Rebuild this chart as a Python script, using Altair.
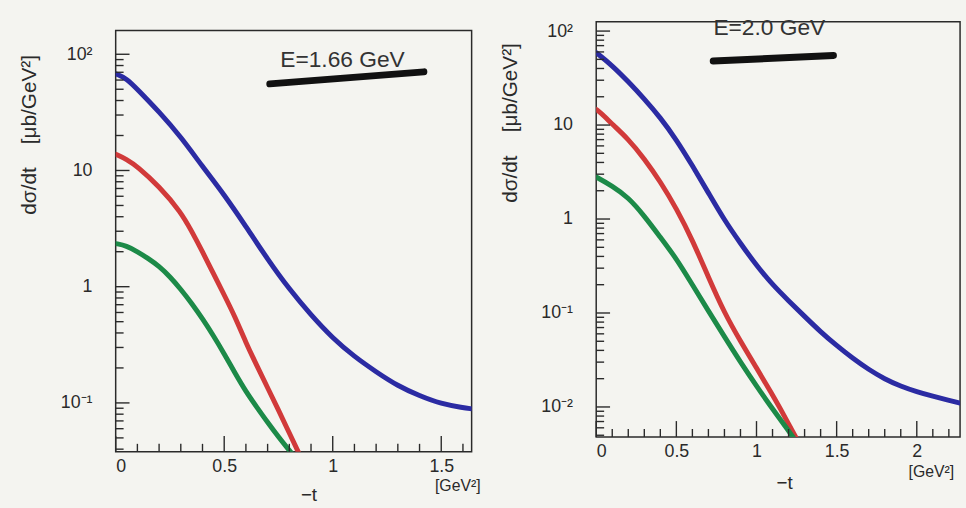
import altair as alt
import pandas as pd

FONT = "Liberation Sans"
INK = "#2a2a2a"
BLUE = "#2b2ba3"
RED = "#d13a3a"
GREEN = "#1c8a48"

# ---- E = 1.66 GeV : -t [GeV^2] vs dsigma/dt [mub/GeV^2] ----
t166_blue = [0, 0.05, 0.1, 0.2, 0.3, 0.4, 0.5, 0.6, 0.7, 0.8, 0.9, 1.0, 1.1, 1.2, 1.3, 1.4, 1.5, 1.6, 1.64]
ds166_blue = [68, 62, 50, 32, 19.5, 10.8, 6.2, 3.3, 1.72, 0.95, 0.57, 0.36, 0.25, 0.185, 0.14, 0.115, 0.098, 0.091, 0.089]
t166_red = [0, 0.05, 0.1, 0.2, 0.3, 0.35, 0.4, 0.45, 0.5, 0.55, 0.6, 0.65, 0.7, 0.75, 0.8, 0.85]
ds166_red = [13.8, 12.5, 10.8, 7.3, 4.4, 3.0, 2.0, 1.3, 0.85, 0.55, 0.33, 0.21, 0.135, 0.087, 0.055, 0.035]
t166_green = [0, 0.05, 0.1, 0.15, 0.2, 0.25, 0.3, 0.35, 0.4, 0.45, 0.5, 0.55, 0.6, 0.65, 0.7, 0.75, 0.8, 0.85]
ds166_green = [2.35, 2.25, 2.0, 1.75, 1.5, 1.22, 0.95, 0.72, 0.53, 0.38, 0.265, 0.18, 0.125, 0.092, 0.068, 0.051, 0.039, 0.030]

# ---- E = 2.0 GeV ----
t200_blue = [0, 0.1, 0.2, 0.3, 0.4, 0.5, 0.6, 0.7, 0.8, 0.9, 1.0, 1.1, 1.2, 1.3, 1.4, 1.5, 1.6, 1.7, 1.8, 1.9, 2.0, 2.1, 2.2, 2.27]
ds200_blue = [59, 43, 29, 19, 12, 7.0, 3.7, 1.9, 0.97, 0.55, 0.32, 0.2, 0.135, 0.092, 0.063, 0.045, 0.033, 0.025, 0.0198, 0.0166, 0.0145, 0.013, 0.0118, 0.011]
t200_red = [0, 0.05, 0.1, 0.2, 0.3, 0.4, 0.5, 0.6, 0.7, 0.8, 0.9, 1.0, 1.1, 1.15, 1.2, 1.25]
ds200_red = [14.7, 12.5, 10.2, 7.1, 4.4, 2.5, 1.3, 0.6, 0.24, 0.1, 0.05, 0.026, 0.0135, 0.0095, 0.0066, 0.0046]
t200_green = [0, 0.1, 0.2, 0.3, 0.4, 0.5, 0.6, 0.7, 0.8, 0.9, 1.0, 1.1, 1.2, 1.25]
ds200_green = [2.8, 2.25, 1.7, 1.08, 0.64, 0.38, 0.2, 0.105, 0.056, 0.03, 0.0167, 0.0095, 0.0056, 0.0042]

# axis tick positions
x_labels_166 = [0, 0.5, 1, 1.5]
x_labels_200 = [0, 0.5, 1, 1.5, 2]
y_decades_166 = [0.1, 1, 10, 100]
y_decades_200 = [0.01, 0.1, 1, 10, 100]


def minor_log_ticks(lo, hi):
    vals = []
    d = 1e-3
    while d < 1e3:
        for m in range(2, 10):
            v = round(m * d, 6)
            if lo <= v <= hi:
                vals.append(v)
        d *= 10
    return vals


def minor_lin_ticks(hi, step=0.1):
    out = []
    i = 0
    while round(i * step, 3) <= hi:
        v = round(i * step, 3)
        if i % 5 != 0:
            out.append(v)
        i += 1
    return out


def curves_frame(series):
    rows = []
    for name, ts, ds in series:
        for t, d in zip(ts, ds):
            rows.append({"t": t, "ds": d, "curve": name})
    return pd.DataFrame(rows)


Y_LABEL_EXPR = ("datum.value >= 100 ? '10²' : datum.value >= 10 ? '10' : "
                "datum.value >= 1 ? '1' : datum.value >= 0.1 ? '10⁻¹' : '10⁻²'")
GAP = "\u00a0" * 4
Y_TITLE = "dσ/dt" + GAP + "[μb/GeV²]"


def panel(series, xmax, ydom, w, h, xlabels, ydec, energy_text, e_pos, bar, unit_pos, tx, ty, title_y):
    xs = alt.Scale(domain=[0, xmax], nice=False, zero=False)
    ys = alt.Scale(type="log", domain=ydom, nice=False)
    xaxis = alt.Axis(
        values=xlabels, format="~g", ticks=False, domain=False, grid=False,
        labelFont=FONT, labelFontSize=18, labelColor=INK, labelPadding=6,
        title="−t", titleFont=FONT, titleFontSize=19, titleFontWeight="normal",
        titleColor=INK, titleX=tx, titleY=ty, titleAlign="center", titleBaseline="middle")
    yaxis = alt.Axis(
        values=ydec, labelExpr=Y_LABEL_EXPR, ticks=False, domain=False, grid=False,
        labelFont=FONT, labelFontSize=18, labelColor=INK, labelPadding=24,
        title=Y_TITLE, titleFont=FONT, titleFontSize=21,
        titleFontWeight="normal", titleColor=INK, titleAngle=270,
        titleX=-87, titleY=title_y, titleAlign="center", titleBaseline="middle")

    def X(field):
        return alt.X(field, scale=xs, axis=xaxis)

    def Y(field):
        return alt.Y(field, scale=ys, axis=yaxis)

    lines = alt.Chart(curves_frame(series)).mark_line(
        strokeWidth=5, clip=True, interpolate="basis", strokeCap="round"
    ).encode(
        x=X("t:Q"),
        y=Y("ds:Q"),
        color=alt.Color("curve:N", scale=alt.Scale(domain=["blue", "red", "green"],
                                                  range=[BLUE, RED, GREEN]), legend=None),
        detail="curve:N",
    )

    def yrule(vals, length):
        return alt.Chart(pd.DataFrame({"ds": vals})).mark_rule(color=INK, strokeWidth=1.4).encode(
            y=Y("ds:Q"), x=alt.value(0), x2=alt.value(length))

    def xrule(vals, length):
        return alt.Chart(pd.DataFrame({"t": vals})).mark_rule(color=INK, strokeWidth=1.4).encode(
            x=X("t:Q"), y=alt.value(h), y2=alt.value(h - length))

    ytick_major = yrule(ydec, 14)
    ytick_minor = yrule(minor_log_ticks(ydom[0], ydom[1]), 8)
    xtick_major = xrule(xlabels, 16)
    xtick_minor = xrule(minor_lin_ticks(xmax), 8)

    etext = alt.Chart(pd.DataFrame({"t": [e_pos[0]], "ds": [e_pos[1]], "s": [energy_text]})).mark_text(
        font=FONT, fontSize=23, color="#333", baseline="middle", align="center"
    ).encode(x=X("t:Q"), y=Y("ds:Q"), text="s:N")

    ebar = alt.Chart(pd.DataFrame({"t": [bar[0]], "t2": [bar[1]], "ds": [bar[2]], "ds2": [bar[3]]})).mark_rule(
        color="#111", strokeWidth=7, strokeCap="round"
    ).encode(x=X("t:Q"), x2="t2:Q", y=Y("ds:Q"), y2="ds2:Q")

    unit = alt.Chart(pd.DataFrame({"s": ["[GeV²]"]})).mark_text(
        font=FONT, fontSize=16, color=INK, baseline="middle", align="center"
    ).encode(x=alt.value(unit_pos[0]), y=alt.value(unit_pos[1]), text="s:N")

    return alt.layer(lines, ytick_minor, ytick_major, xtick_minor, xtick_major,
                     etext, ebar, unit).properties(width=w, height=h)


left = panel(
    [("blue", t166_blue, ds166_blue), ("red", t166_red, ds166_red), ("green", t166_green, ds166_green)],
    xmax=1.64, ydom=[0.038, 160], w=360, h=426, xlabels=x_labels_166, ydec=y_decades_166,
    energy_text="E=1.66 GeV", e_pos=(1.045, 89), bar=(0.71, 1.42, 55.6, 70.6),
    unit_pos=(346, 461), tx=195, ty=43, title_y=105,
)

right = panel(
    [("blue", t200_blue, ds200_blue), ("red", t200_red, ds200_red), ("green", t200_green, ds200_green)],
    xmax=2.27, ydom=[0.0048, 126], w=368, h=420, xlabels=x_labels_200, ydec=y_decades_200,
    energy_text="E=2.0 GeV", e_pos=(1.08, 107), bar=(0.73, 1.48, 48, 55),
    unit_pos=(339, 456), tx=190, ty=46, title_y=102,
)

# a thin invisible strip that lowers the left panel a little
spacer = alt.Chart(pd.DataFrame({"a": [0]})).mark_point(opacity=0).encode(
    x=alt.value(0), y=alt.value(0)
).properties(width=360, height=1, view=alt.ViewBackground(stroke="transparent"))

chart = alt.hconcat(
    alt.vconcat(spacer, left, spacing=4),
    right,
    spacing=17,
).properties(
    padding={"left": 18, "top": 13, "right": 5, "bottom": 0},
    background="#f4f4f0",
).configure_view(stroke=INK, strokeWidth=1.5)

chart.save("out.html", embed_options={"renderer": "svg", "actions": False})
